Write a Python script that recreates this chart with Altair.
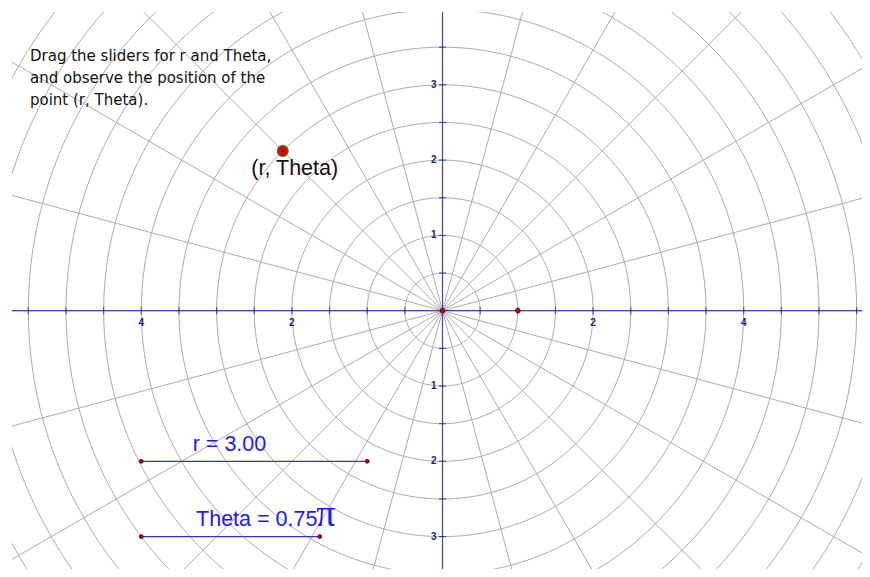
import numpy as np
import pandas as pd
import altair as alt

# ---------------- data ----------------
r_value = 3.0
theta_value = 0.75            # in units of pi
grid_radii = [0.5, 1.0, 1.5, 2.0, 2.5, 3.0, 3.5, 4.0, 4.5, 5.0, 5.5, 6.0, 6.5, 7.0]
ray_angles_deg = [0, 15, 30, 45, 60, 75, 90, 105, 120, 135, 150, 165,
                  180, 195, 210, 225, 240, 255, 270, 285, 300, 315, 330, 345]
x_tick_values = [-5.5, -5, -4.5, -4, -3.5, -3, -2.5, -2, -1.5, -1, -0.5,
                 0.5, 1, 1.5, 2, 2.5, 3, 3.5, 4, 4.5, 5, 5.5]
y_tick_values = [-3.5, -3, -2.5, -2, -1.5, -1, -0.5, 0.5, 1, 1.5, 2, 2.5, 3, 3.5]
x_label_values = [-4, -2, 2, 4]
x_label_texts = ["4", "2", "2", "4"]
y_label_values = [3, 2, 1, -1, -2, -3]
y_label_texts = ["3", "2", "1", "1", "2", "3"]
intro_lines = ["Drag the sliders for r and Theta,",
               "and observe the position of the",
               "point (r, Theta)."]
point_label = "(r, Theta)"
slider_texts = ["r = 3.00", "Theta = 0.75"]
pi_text = "\u03c0"
slider_starts = [-4.0, -4.0]
slider_ends = [-1.0, -1.63]
slider_levels = [-2.0, -3.0]
marked_points_x = [0.0, 1.0]
marked_points_y = [0.0, 0.0]

# ---------------- geometry ----------------
X0, X1 = -5.717, 5.571
Y0, Y1 = -3.430, 3.967
xs = alt.Scale(domain=[X0, X1], nice=False, zero=False)
ys = alt.Scale(domain=[Y0, Y1], nice=False, zero=False)

GRID = "#acacac"
AXIS = "#4040c0"
TICK = "#1c1c86"
BLUE = "#1a1aff"

steps = np.arange(0, 361, 2)
circ_rows = []
for r in grid_radii:
    for k, a in enumerate(steps):
        t = np.deg2rad(a)
        circ_rows.append({"r": r, "k": k, "x": r * np.cos(t), "y": r * np.sin(t)})
circ_df = pd.DataFrame(circ_rows)

R_RAY = 8.0
ray_df = pd.DataFrame({
    "x": [0.0] * len(ray_angles_deg),
    "y": [0.0] * len(ray_angles_deg),
    "x2": [R_RAY * np.cos(np.deg2rad(a)) for a in ray_angles_deg],
    "y2": [R_RAY * np.sin(np.deg2rad(a)) for a in ray_angles_deg],
})

th = theta_value * np.pi
pt_df = pd.DataFrame({"x": [r_value * np.cos(th)], "y": [r_value * np.sin(th)],
                      "label": [point_label]})

def X(f="x"):
    return alt.X(f"{f}:Q", scale=xs, axis=None)

def Y(f="y"):
    return alt.Y(f"{f}:Q", scale=ys, axis=None)

circles = alt.Chart(circ_df).mark_line(color=GRID, strokeWidth=1, clip=True).encode(
    x=X(), y=Y(), detail="r:N", order="k:Q")

rays = alt.Chart(ray_df).mark_rule(color=GRID, strokeWidth=1, clip=True).encode(
    x=X(), y=Y(), x2="x2:Q", y2="y2:Q")

x_axis = alt.Chart(pd.DataFrame({"v": [0.0]})).mark_rule(color=AXIS, strokeWidth=1.2).encode(
    y=alt.Y("v:Q", scale=ys, axis=None))
y_axis = alt.Chart(pd.DataFrame({"v": [0.0]})).mark_rule(color=AXIS, strokeWidth=1.2).encode(
    x=alt.X("v:Q", scale=xs, axis=None))

xt = alt.Chart(pd.DataFrame({"x": x_tick_values, "y": [0.0] * len(x_tick_values)})).mark_tick(
    orient="vertical", size=7, thickness=1.2, color=TICK, clip=True).encode(x=X(), y=Y())
yt = alt.Chart(pd.DataFrame({"y": y_tick_values, "x": [0.0] * len(y_tick_values)})).mark_tick(
    orient="horizontal", size=7, thickness=1.2, color=TICK, clip=True).encode(x=X(), y=Y())

xl = alt.Chart(pd.DataFrame({"x": x_label_values, "y": [0.0] * 4, "t": x_label_texts})).mark_text(
    fontSize=10, fontWeight="bold", font="Liberation Sans", color=TICK, baseline="middle",
    align="center", dy=12).encode(x=X(), y=Y(), text="t:N")
yl = alt.Chart(pd.DataFrame({"y": y_label_values, "x": [0.0] * 6, "t": y_label_texts})).mark_text(
    fontSize=10, fontWeight="bold", font="Liberation Sans", color=TICK, baseline="middle",
    align="right", dx=-6).encode(x=X(), y=Y(), text="t:N")

sl_df = pd.DataFrame({"x": slider_starts, "x2": slider_ends, "y": slider_levels})
sliders = alt.Chart(sl_df).mark_rule(color="#3030e0", strokeWidth=1.2).encode(
    x=X(), x2="x2:Q", y=Y())
end_df = pd.DataFrame({"x": slider_starts + slider_ends, "y": slider_levels + slider_levels})
slider_dots = alt.Chart(end_df).mark_point(filled=True, size=16, color="#c00000",
                                           stroke="#400000", strokeWidth=0.7, opacity=1).encode(
    x=X(), y=Y())

stxt_df = pd.DataFrame({"x": [-3.317, -3.273], "y": [-1.866, -2.862], "t": slider_texts})
slider_txt = alt.Chart(stxt_df).mark_text(fontSize=21.5, font="Liberation Sans", color=BLUE,
                                          align="left", baseline="alphabetic").encode(
    x=X(), y=Y(), text="t:N")
pi_df = pd.DataFrame({"x": [-1.675], "y": [-2.862], "t": [pi_text]})
pi_txt = alt.Chart(pi_df).mark_text(fontSize=38, font="Liberation Serif", color=BLUE,
                                    align="left", baseline="alphabetic").encode(
    x=X(), y=Y(), text="t:N")

mk_df = pd.DataFrame({"x": marked_points_x, "y": marked_points_y})
marks = alt.Chart(mk_df).mark_point(filled=True, size=22, color="#d00000", stroke="#500000",
                                    strokeWidth=0.8, opacity=1).encode(x=X(), y=Y())

big_pt = alt.Chart(pt_df).mark_point(filled=True, size=115, color="#ee0000", stroke="#2a7a2a",
                                     strokeWidth=1.3, opacity=1).encode(x=X(), y=Y())
big_ctr = alt.Chart(pt_df).mark_point(filled=True, size=4, color="#500000", opacity=1).encode(
    x=X(), y=Y())
pt_lbl = alt.Chart(pt_df).mark_text(fontSize=21.5, font="Liberation Sans", color="#111111",
                                    align="center", baseline="middle", dx=12, dy=18).encode(
    x=X(), y=Y(), text="label:N")

intro_df = pd.DataFrame({"x": [-5.478] * 3, "y": [3.313, 3.021, 2.729], "t": intro_lines})
intro = alt.Chart(intro_df).mark_text(fontSize=15, font="DejaVu Sans", color="#111111",
                                      align="left", baseline="alphabetic").encode(
    x=X(), y=Y(), text="t:N")

chart = alt.layer(circles, rays, x_axis, y_axis, xt, yt, xl, yl, sliders, slider_dots,
                  slider_txt, pi_txt, marks, big_pt, big_ctr, pt_lbl, intro).properties(
    width=850, height=557,
    padding={"left": 4, "top": 4, "right": 0, "bottom": 0},
    autosize=alt.AutoSizeParams(type="none"),
    background="white",
).configure_view(stroke=None)

chart.save("out.html", embed_options={"renderer": "svg", "actions": False})
